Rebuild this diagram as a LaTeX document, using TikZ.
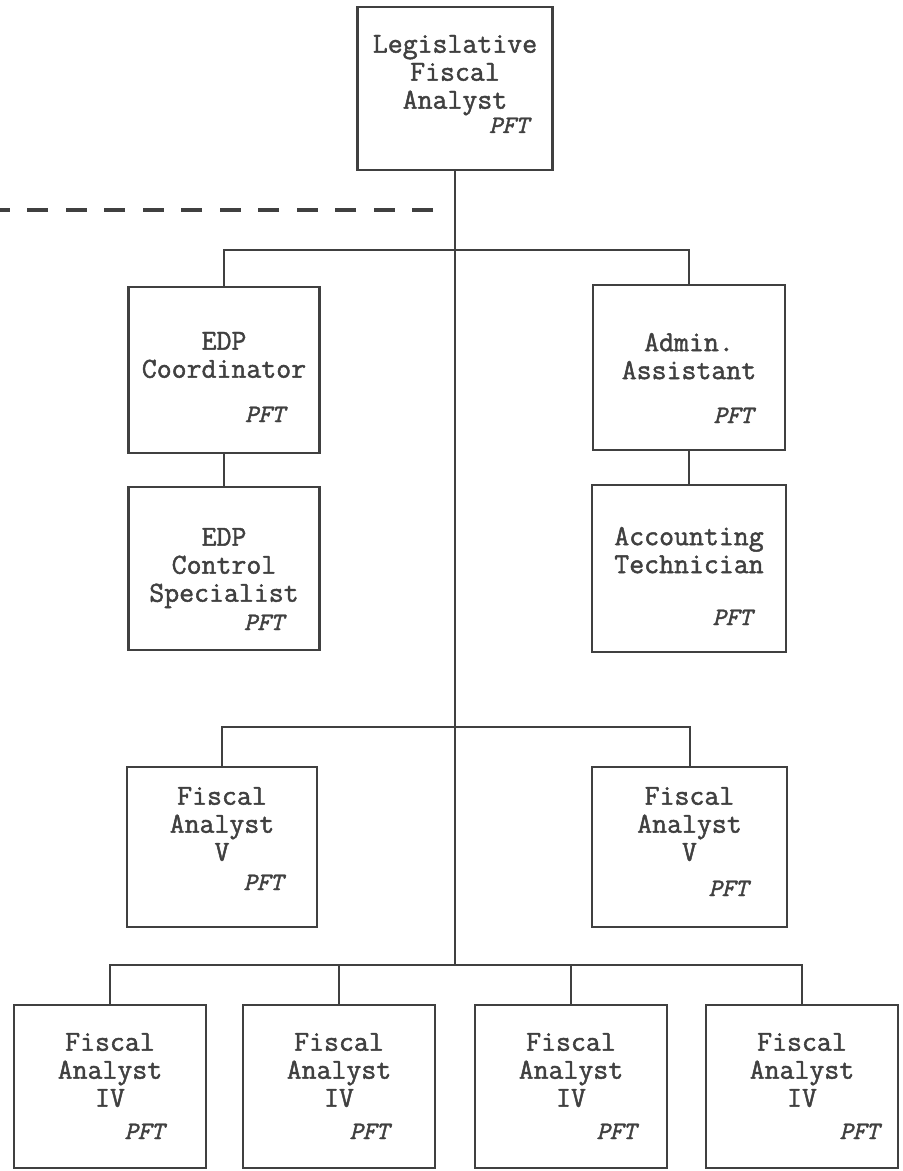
\documentclass[tikz,border=0pt]{standalone}
\usepackage{fontspec}
\newfontfamily\typer{Latin Modern Mono}[FakeBold=1.6]
\usetikzlibrary{positioning}
\definecolor{ink}{gray}{0.25}

\begin{document}
\begin{tikzpicture}[x=0.5pt, y=-0.5pt]
                    \tikzstyle{box}=[draw=ink, line width=1.4pt, minimum width=96pt, minimum height=82pt, inner sep=0pt]
                    \tikzstyle{title}=[anchor=north, align=center, inner sep=0pt, text=ink, font=\typer\fontsize{14.5}{14}\selectfont]
                    \tikzstyle{pft}=[inner sep=0pt, text=ink, font=\typer\itshape\fontsize{12.5}{12}\selectfont]
                    \tikzstyle{link}=[draw=ink, line width=1pt]
                    \tikzstyle{cut}=[draw=ink, line width=1.6pt, dash pattern=on 10.5pt off 8.75pt]
                    \useasboundingbox (0,0) rectangle (902,1171);
                    % head of the office
                    \node[box, minimum width=97.5pt, minimum height=81.5pt] (lfa) at (455,88.5) {};
                    \node[title, below=14.5pt of lfa.north] (lfa-t) {Legislative\\Fiscal\\Analyst};
                    \node[pft, above left=19pt and 12.5pt of lfa.south east] (lfa-p) {PFT};
                    % support staff, left and right
                    \node[box, minimum width=95.5pt, minimum height=83pt] (edpc) at (224,370) {};
                    \node[title, below=23pt of edpc.north] (edpc-t) {EDP\\Coordinator};
                    \node[pft, above left=16pt and 18pt of edpc.south east] (edpc-p) {PFT};
                    \node[box, minimum width=95.5pt, minimum height=81.5pt] (edpcs) at (224,568.5) {};
                    \node[title, below=21pt of edpcs.north] (edpcs-t) {EDP\\Control\\Specialist};
                    \node[pft, above left=10.5pt and 18.5pt of edpcs.south east] (edpcs-p) {PFT};
                    \node[box, minimum height=82.5pt] (admin) at (689,367.5) {};
                    \node[title, below=24.5pt of admin.north] (admin-t) {Admin.\\Assistant};
                    \node[pft, above left=14pt and 16.5pt of admin.south east] (admin-p) {PFT};
                    \node[box, minimum width=97pt, minimum height=83.5pt] (acct) at (689,568.5) {};
                    \node[title, below=21.5pt of acct.north] (acct-t) {Accounting\\Technician};
                    \node[pft, above left=14pt and 17.5pt of acct.south east] (acct-p) {PFT};
                    % fiscal analysts V
                    \node[box, minimum width=95pt, minimum height=80pt] (fa5l) at (222,847) {};
                    \node[title, below=10.5pt of fa5l.north] (fa5l-t) {Fiscal\\Analyst\\V};
                    \node[pft, above left=19pt and 17.5pt of fa5l.south east] (fa5l-p) {PFT};
                    \node[box, minimum width=97.5pt, minimum height=80pt] (fa5r) at (689.5,847) {};
                    \node[title, below=10.5pt of fa5r.north] (fa5r-t) {Fiscal\\Analyst\\V};
                    \node[pft, above left=16pt and 20pt of fa5r.south east] (fa5r-p) {PFT};
                    % fiscal analysts IV
                    \foreach \n/\x/\r in {a/110/21.5, b/339/23.5, c/571/16, d/802/10} {
                      \node[box, minimum height=81.5pt] (fa4\n) at (\x,1086.5) {};
                      \node[title, below=14.5pt of fa4\n.north] (fa4\n-t) {Fiscal\\Analyst\\IV};
                      \node[pft, above left=15pt and \r pt of fa4\n.south east] (fa4\n-p) {PFT};
                    }
                    % lines of report
                    \coordinate (bus1) at (455,250);
                    \coordinate (bus2) at (455,727);
                    \coordinate (bus3) at (455,965);
                    \draw[link] (lfa.south) -- (bus3);
                    \draw[link] (edpc.north) |- (bus1) -| (admin.north);
                    \draw[link] (edpc) -- (edpcs);
                    \draw[link] (admin) -- (acct);
                    \draw[link] (fa5l.north) |- (bus2) -| (fa5r.north);
                    \draw[link] (fa4a.north) |- (bus3) -| (fa4d.north);
                    \draw[link] (fa4b.north) -- (fa4b.north |- bus3);
                    \draw[link] (fa4c.north) -- (fa4c.north |- bus3);
                    % dashed cut line
                    \coordinate (cut-e) at (433,210);
                    \coordinate (cut-w) at (0,210);
                    \draw[cut] (cut-e) -- (cut-w);
                \end{tikzpicture}
\end{document}
